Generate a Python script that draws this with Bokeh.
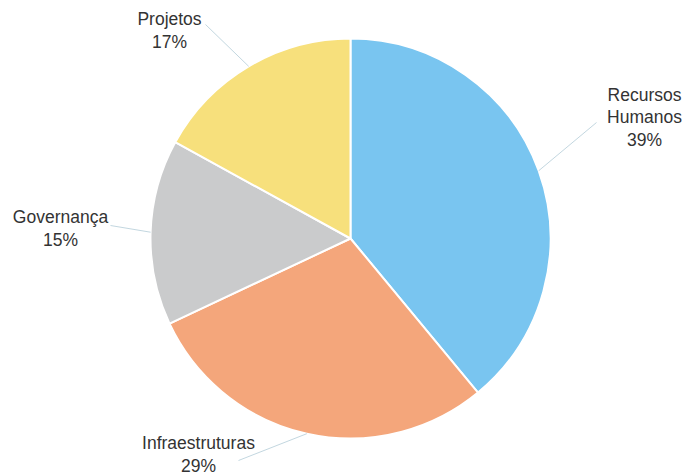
import math
from bokeh.plotting import figure
from bokeh.models import Range1d, ColumnDataSource
from bokeh.core.properties import value
from bokeh.embed import file_html
from bokeh.resources import INLINE

# ---- data ----
categories = ["Recursos Humanos", "Infraestruturas", "Governança", "Projetos"]
percentages = [39, 29, 15, 17]
colors = ["#79c5f0", "#f4a67b", "#cacbcc", "#f7e07c"]

# ---- layout (pixels, top-left origin) ----
W, H = 686, 475
CX, CY, R = 350, 238, 200
label_pos = [(644, 117), (198, 454), (60, 228), (169, 30)]
leader_end = [(596, 122), (238, 460), (110, 225), (205, 24)]

def fy(y):
    return H - y

total = float(sum(percentages))
starts, ends, mids = [], [], []
cum = 0.0
for v in percentages:
    a0 = math.pi / 2 - 2 * math.pi * cum / total
    cum += v
    a1 = math.pi / 2 - 2 * math.pi * cum / total
    starts.append(a0)
    ends.append(a1)
    mids.append((a0 + a1) / 2)

src = ColumnDataSource(dict(
    x=[CX] * len(percentages), y=[fy(CY)] * len(percentages),
    start=starts, end=ends, color=colors,
))

p = figure(width=W, height=H, output_backend="svg", toolbar_location=None,
           x_range=Range1d(0, W), y_range=Range1d(0, H),
           x_axis_location=None, y_axis_location=None, min_border=0,
           background_fill_color="white", border_fill_color="white")
p.outline_line_color = None
p.grid.visible = False

p.wedge(x="x", y="y", radius=R, start_angle="start", end_angle="end",
        direction="clock", fill_color="color", line_color="white",
        line_width=2, source=src)

xs, ys = [], []
for m, (ex, ey) in zip(mids, leader_end):
    sx = CX + R * math.cos(m)
    sy = fy(CY) + R * math.sin(m)
    xs.append([sx, ex])
    ys.append([sy, fy(ey)])
p.multi_line(xs=xs, ys=ys, line_color="#c3d7e0", line_width=1)

labels = [c.replace(" ", "\n") + "\n" + f"{v}%" for c, v in zip(categories, percentages)]
p.text(x=[lp[0] for lp in label_pos], y=[fy(lp[1]) for lp in label_pos],
       text=labels, text_align="center", text_baseline="middle",
       text_font=value("Liberation Sans"), text_font_size="17.5px",
       text_color="#333333", text_line_height=1.12)

open("out.html", "w").write(file_html(p, INLINE))
